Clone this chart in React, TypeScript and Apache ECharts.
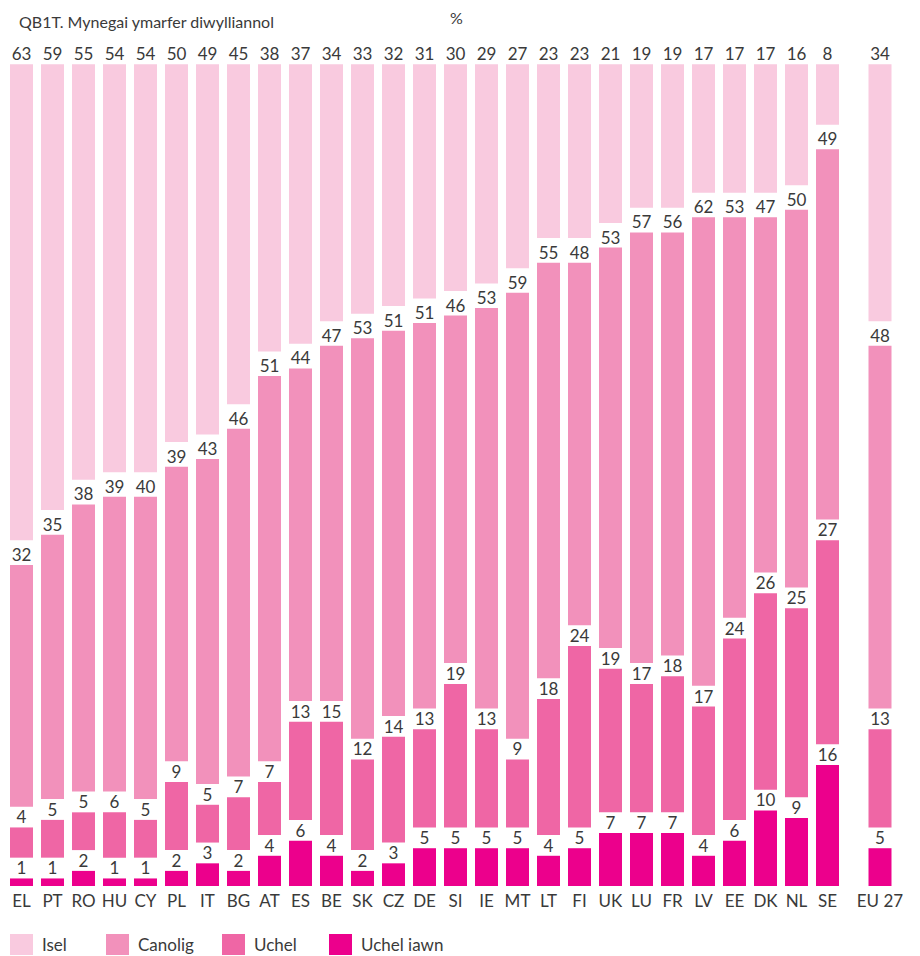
import React, { useEffect, useRef } from "react";
import * as echarts from "echarts";

const categories = ["EL","PT","RO","HU","CY","PL","IT","BG","AT","ES","BE","SK","CZ","DE","SI","IE","MT","LT","FI","UK","LU","FR","LV","EE","DK","NL","SE"];
const isel = [63,59,55,54,54,50,49,45,38,37,34,33,32,31,30,29,27,23,23,21,19,19,17,17,17,16,8];
const canolig = [32,35,38,39,40,39,43,46,51,44,47,53,51,51,46,53,59,55,48,53,57,56,62,53,47,50,49];
const uchel = [4,5,5,6,5,9,5,7,7,13,15,12,14,13,19,13,9,18,24,19,17,18,17,24,26,25,27];
const uchelIawn = [1,1,2,1,1,2,3,2,4,6,4,2,3,5,5,5,5,4,5,7,7,7,4,6,10,9,16];

const euCategory = ["EU 27"];
const euIsel = [34];
const euCanolig = [48];
const euUchel = [13];
const euUchelIawn = [5];

const seriesNames = ["Isel", "Canolig", "Uchel", "Uchel iawn"];
const colors: Record<string, string> = {
  "Isel": "#f9cadf",
  "Canolig": "#f291bb",
  "Uchel": "#ef66a5",
  "Uchel iawn": "#ec008c",
};

// visual spacing between stacked segments (in axis units)
const GAP_TOP = 3.25;
const GAP = 2.75;
const Y_MAX = 100 + GAP_TOP + 2 * GAP;

const FONT = "Lato, 'Noto Sans', sans-serif";
const TXT = "#3a3a3a";

function buildStack(
  vals: { iawn: number[]; uchel: number[]; canolig: number[]; isel: number[] },
  axisIndex: number,
  stack: string
) {
  const n = vals.isel.length;
  const label = {
    show: true,
    position: "top" as const,
    distance: 2,
    color: TXT,
    fontFamily: FONT,
    fontSize: 17,
  };
  const valueSeries = (name: string, data: number[]) => ({
    name,
    type: "bar",
    stack,
    xAxisIndex: axisIndex,
    yAxisIndex: axisIndex,
    barWidth: 23,
    data,
    itemStyle: { color: colors[name] },
    label,
    emphasis: { disabled: true },
  });
  const gapSeries = (id: string, g: number) => ({
    name: id,
    type: "bar",
    stack,
    xAxisIndex: axisIndex,
    yAxisIndex: axisIndex,
    barWidth: 23,
    data: new Array(n).fill(g),
    itemStyle: { color: "rgba(0,0,0,0)" },
    label: { show: false },
    silent: true,
    emphasis: { disabled: true },
  });
  return [
    valueSeries("Uchel iawn", vals.iawn),
    gapSeries("gap1_" + stack, GAP),
    valueSeries("Uchel", vals.uchel),
    gapSeries("gap2_" + stack, GAP),
    valueSeries("Canolig", vals.canolig),
    gapSeries("gap3_" + stack, GAP_TOP),
    valueSeries("Isel", vals.isel),
  ];
}

export default function App() {
  const ref = useRef<HTMLDivElement>(null);
  useEffect(() => {
    if (!ref.current) return;
    const chart = echarts.init(ref.current, undefined, { renderer: "svg" });
    const top = 64.3;
    const height = 821.7;
    const xAxisCommon = {
      type: "category" as const,
      axisLine: { show: false },
      axisTick: { show: false },
      axisLabel: { color: TXT, fontFamily: FONT, fontSize: 17, margin: 6, interval: 0 },
    };
    const yAxisCommon = {
      type: "value" as const,
      min: 0,
      max: Y_MAX,
      show: false,
      splitLine: { show: false },
    };
    const legendPos = [10, 106, 222, 329];
    chart.setOption({
      animation: false,
      title: {
        text: "QB1T. Mynegai ymarfer diwylliannol",
        left: 14,
        top: 8,
        textStyle: { color: TXT, fontFamily: FONT, fontSize: 16, fontWeight: "normal" },
      },
      graphic: [
        {
          type: "text",
          left: 450,
          top: 9,
          style: { text: "%", fill: TXT, font: `16px ${FONT}` },
        },
      ],
      legend: seriesNames.map((name, i) => ({
        data: [name],
        left: legendPos[i],
        top: 934,
        padding: 0,
        itemWidth: 23,
        itemHeight: 21,
        icon: "rect",
        selectedMode: false,
        textStyle: {
          color: TXT,
          fontFamily: FONT,
          fontSize: 17,
          lineHeight: 17,
          padding: [0, 0, 0, 4],
        },
      })),
      grid: [
        { left: 6, top, width: 27 * 31, height },
        { left: 864.5, top, width: 31, height },
      ],
      xAxis: [
        { ...xAxisCommon, gridIndex: 0, data: categories },
        { ...xAxisCommon, gridIndex: 1, data: euCategory },
      ],
      yAxis: [
        { ...yAxisCommon, gridIndex: 0 },
        { ...yAxisCommon, gridIndex: 1 },
      ],
      series: [
        ...buildStack({ iawn: uchelIawn, uchel, canolig, isel }, 0, "a"),
        ...buildStack({ iawn: euUchelIawn, uchel: euUchel, canolig: euCanolig, isel: euIsel }, 1, "b"),
      ],
    });
    return () => chart.dispose();
  }, []);
  return (
    <div
      ref={ref}
      style={{ position: "absolute", left: 0, top: 0, width: 920, height: 956 }}
    />
  );
}
